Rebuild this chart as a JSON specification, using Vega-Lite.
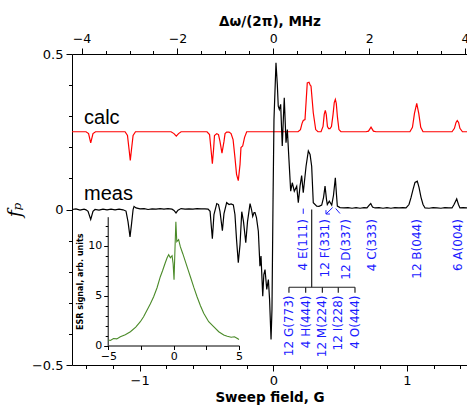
{
"$schema": "https://vega.github.io/schema/vega-lite/v6.json",
"width": 395,
"height": 311,
"autosize": {"type": "none"},
"padding": {"left": 72, "top": 54, "right": 0, "bottom": 41},
"config": {
  "view": {"stroke": null},
  "font": "DejaVu Sans",
  "axis": {"domainColor": "black", "tickColor": "black", "labelColor": "black", "titleColor": "black", "labelFont": "DejaVu Sans", "titleFont": "DejaVu Sans", "grid": false, "domainWidth": 1, "tickWidth": 1, "labelOverlap": false},
  "axisQuantitative": {"labelOverlap": false}
},
"datasets": {
  "traces": [
    {"s":"calc","G":-1.506,"f":0.25},{"s":"calc","G":-1.401,"f":0.25},{"s":"calc","G":-1.382,"f":0.244},{"s":"calc","G":-1.366,"f":0.214},{"s":"calc","G":-1.349,"f":0.244},{"s":"calc","G":-1.330,"f":0.25},
    {"s":"calc","G":-1.109,"f":0.25},{"s":"calc","G":-1.091,"f":0.238},{"s":"calc","G":-1.079,"f":0.193},{"s":"calc","G":-1.070,"f":0.158},{"s":"calc","G":-1.061,"f":0.193},{"s":"calc","G":-1.049,"f":0.238},{"s":"calc","G":-1.031,"f":0.25},
    {"s":"calc","G":-0.765,"f":0.25},{"s":"calc","G":-0.743,"f":0.244},{"s":"calc","G":-0.726,"f":0.236},{"s":"calc","G":-0.709,"f":0.244},{"s":"calc","G":-0.690,"f":0.25},
    {"s":"calc","G":-0.496,"f":0.25},{"s":"calc","G":-0.477,"f":0.241},{"s":"calc","G":-0.466,"f":0.193},{"s":"calc","G":-0.456,"f":0.147},{"s":"calc","G":-0.447,"f":0.193},{"s":"calc","G":-0.440,"f":0.238},{"s":"calc","G":-0.423,"f":0.244},{"s":"calc","G":-0.410,"f":0.241},{"s":"calc","G":-0.399,"f":0.219},{"s":"calc","G":-0.384,"f":0.181},{"s":"calc","G":-0.369,"f":0.219},{"s":"calc","G":-0.361,"f":0.244},{"s":"calc","G":-0.349,"f":0.249},{"s":"calc","G":-0.331,"f":0.249},{"s":"calc","G":-0.316,"f":0.244},{"s":"calc","G":-0.301,"f":0.225},{"s":"calc","G":-0.287,"f":0.167},{"s":"calc","G":-0.275,"f":0.113},{"s":"calc","G":-0.262,"f":0.093},{"s":"calc","G":-0.249,"f":0.145},{"s":"calc","G":-0.242,"f":0.199},{"s":"calc","G":-0.229,"f":0.204},{"s":"calc","G":-0.215,"f":0.232},{"s":"calc","G":-0.199,"f":0.25},
    {"s":"calc","G":0.185,"f":0.25},{"s":"calc","G":0.203,"f":0.257},{"s":"calc","G":0.215,"f":0.277},{"s":"calc","G":0.224,"f":0.286},{"s":"calc","G":0.237,"f":0.289},{"s":"calc","G":0.254,"f":0.407},{"s":"calc","G":0.267,"f":0.409},{"s":"calc","G":0.277,"f":0.399},{"s":"calc","G":0.282,"f":0.397},{"s":"calc","G":0.299,"f":0.311},{"s":"calc","G":0.317,"f":0.257},{"s":"calc","G":0.334,"f":0.25},
    {"s":"calc","G":0.357,"f":0.25},{"s":"calc","G":0.372,"f":0.267},{"s":"calc","G":0.381,"f":0.306},{"s":"calc","G":0.389,"f":0.319},{"s":"calc","G":0.396,"f":0.306},{"s":"calc","G":0.405,"f":0.267},{"s":"calc","G":0.414,"f":0.260},{"s":"calc","G":0.424,"f":0.260},{"s":"calc","G":0.435,"f":0.267},{"s":"calc","G":0.447,"f":0.306},{"s":"calc","G":0.456,"f":0.344},{"s":"calc","G":0.464,"f":0.354},{"s":"calc","G":0.471,"f":0.341},{"s":"calc","G":0.480,"f":0.296},{"s":"calc","G":0.491,"f":0.257},{"s":"calc","G":0.506,"f":0.25},
    {"s":"calc","G":0.693,"f":0.25},{"s":"calc","G":0.712,"f":0.252},{"s":"calc","G":0.731,"f":0.265},{"s":"calc","G":0.749,"f":0.252},{"s":"calc","G":0.768,"f":0.25},
    {"s":"calc","G":1.022,"f":0.25},{"s":"calc","G":1.041,"f":0.264},{"s":"calc","G":1.056,"f":0.309},{"s":"calc","G":1.073,"f":0.341},{"s":"calc","G":1.088,"f":0.309},{"s":"calc","G":1.103,"f":0.264},{"s":"calc","G":1.120,"f":0.25},
    {"s":"calc","G":1.337,"f":0.25},{"s":"calc","G":1.355,"f":0.261},{"s":"calc","G":1.367,"f":0.280},{"s":"calc","G":1.376,"f":0.286},{"s":"calc","G":1.386,"f":0.280},{"s":"calc","G":1.396,"f":0.261},{"s":"calc","G":1.415,"f":0.25},{"s":"calc","G":1.449,"f":0.25},
    {"s":"meas","G":-1.506,"f":0},{"s":"meas","G":-1.476,"f":0.002},{"s":"meas","G":-1.446,"f":-0.002},{"s":"meas","G":-1.416,"f":0.001},{"s":"meas","G":-1.401,"f":-0.001},{"s":"meas","G":-1.386,"f":-0.006},{"s":"meas","G":-1.366,"f":-0.032},{"s":"meas","G":-1.349,"f":-0.006},{"s":"meas","G":-1.334,"f":0},{"s":"meas","G":-1.304,"f":-0.002},{"s":"meas","G":-1.274,"f":0.001},{"s":"meas","G":-1.244,"f":-0.001},{"s":"meas","G":-1.214,"f":0.001},{"s":"meas","G":-1.184,"f":-0.001},{"s":"meas","G":-1.154,"f":0.001},{"s":"meas","G":-1.124,"f":-0.001},{"s":"meas","G":-1.102,"f":-0.005},{"s":"meas","G":-1.087,"f":-0.039},{"s":"meas","G":-1.072,"f":-0.088},{"s":"meas","G":-1.061,"f":-0.048},{"s":"meas","G":-1.049,"f":0},{"s":"meas","G":-1.042,"f":0.010},{"s":"meas","G":-1.027,"f":0.005},{"s":"meas","G":-0.997,"f":0.002},{"s":"meas","G":-0.967,"f":0.003},{"s":"meas","G":-0.937,"f":0},{"s":"meas","G":-0.907,"f":0.002},{"s":"meas","G":-0.877,"f":0.001},{"s":"meas","G":-0.847,"f":0.003},{"s":"meas","G":-0.818,"f":0.001},{"s":"meas","G":-0.788,"f":0.003},{"s":"meas","G":-0.758,"f":0.001},{"s":"meas","G":-0.743,"f":-0.003},{"s":"meas","G":-0.728,"f":-0.011},{"s":"meas","G":-0.713,"f":-0.002},{"s":"meas","G":-0.690,"f":0.003},{"s":"meas","G":-0.660,"f":0.001},{"s":"meas","G":-0.631,"f":0.002},{"s":"meas","G":-0.601,"f":0.001},{"s":"meas","G":-0.571,"f":0.003},{"s":"meas","G":-0.541,"f":0.002},{"s":"meas","G":-0.511,"f":0.002},{"s":"meas","G":-0.488,"f":0.001},{"s":"meas","G":-0.473,"f":-0.006},{"s":"meas","G":-0.456,"f":-0.094},{"s":"meas","G":-0.444,"f":-0.016},{"s":"meas","G":-0.423,"f":0.019},{"s":"meas","G":-0.410,"f":0.016},{"s":"meas","G":-0.399,"f":-0.006},{"s":"meas","G":-0.381,"f":-0.068},{"s":"meas","G":-0.369,"f":-0.013},{"s":"meas","G":-0.349,"f":0.022},{"s":"meas","G":-0.331,"f":0.016},{"s":"meas","G":-0.316,"f":0.018},{"s":"meas","G":-0.299,"f":0.015},{"s":"meas","G":-0.287,"f":-0.016},{"s":"meas","G":-0.275,"f":-0.097},{"s":"meas","G":-0.262,"f":-0.171},{"s":"meas","G":-0.249,"f":-0.113},{"s":"meas","G":-0.236,"f":-0.007},{"s":"meas","G":-0.223,"f":-0.039},{"s":"meas","G":-0.206,"f":-0.107},{"s":"meas","G":-0.193,"f":-0.039},{"s":"meas","G":-0.174,"f":0.019},{"s":"meas","G":-0.163,"f":0},{"s":"meas","G":-0.154,"f":-0.022},{"s":"meas","G":-0.144,"f":-0.010},{"s":"meas","G":-0.137,"f":-0.010},{"s":"meas","G":-0.126,"f":-0.026},{"s":"meas","G":-0.112,"f":-0.070},{"s":"meas","G":-0.100,"f":-0.182},{"s":"meas","G":-0.092,"f":-0.150},{"s":"meas","G":-0.079,"f":-0.279},{"s":"meas","G":-0.071,"f":-0.209},{"s":"meas","G":-0.062,"f":-0.193},{"s":"meas","G":-0.049,"f":-0.257},{"s":"meas","G":-0.037,"f":-0.225},{"s":"meas","G":-0.028,"f":-0.289},{"s":"meas","G":-0.017,"f":-0.418},{"s":"meas","G":-0.010,"f":-0.322},{"s":"meas","G":-0.002,"f":0.032},{"s":"meas","G":0.005,"f":0.289},{"s":"meas","G":0.020,"f":0.472},{"s":"meas","G":0.030,"f":0.402},{"s":"meas","G":0.037,"f":0.332},{"s":"meas","G":0.045,"f":0.322},{"s":"meas","G":0.055,"f":0.338},{"s":"meas","G":0.067,"f":0.204},{"s":"meas","G":0.075,"f":0.290},{"s":"meas","G":0.082,"f":0.359},{"s":"meas","G":0.095,"f":0.215},{"s":"meas","G":0.105,"f":0.257},{"s":"meas","G":0.117,"f":0.161},{"s":"meas","G":0.130,"f":0.059},{"s":"meas","G":0.142,"f":0.086},{"s":"meas","G":0.157,"f":0.059},{"s":"meas","G":0.175,"f":0.075},{"s":"meas","G":0.187,"f":0.022},{"s":"meas","G":0.200,"f":0.075},{"s":"meas","G":0.212,"f":0.109},{"s":"meas","G":0.224,"f":0.054},{"s":"meas","G":0.245,"f":0.139},{"s":"meas","G":0.262,"f":0.188},{"s":"meas","G":0.275,"f":0.177},{"s":"meas","G":0.287,"f":0.139},{"s":"meas","G":0.299,"f":0.022},{"s":"meas","G":0.325,"f":0.011},{"s":"meas","G":0.342,"f":0.010},{"s":"meas","G":0.362,"f":0.014},{"s":"meas","G":0.376,"f":0.039},{"s":"meas","G":0.387,"f":0.075},{"s":"meas","G":0.398,"f":0.032},{"s":"meas","G":0.404,"f":0.016},{"s":"meas","G":0.419,"f":0.027},{"s":"meas","G":0.437,"f":0.014},{"s":"meas","G":0.450,"f":0.045},{"s":"meas","G":0.464,"f":0.102},{"s":"meas","G":0.473,"f":0.045},{"s":"meas","G":0.479,"f":0.011},{"s":"meas","G":0.499,"f":0.006},{"s":"meas","G":0.529,"f":0.005},{"s":"meas","G":0.559,"f":0.006},{"s":"meas","G":0.589,"f":0.004},{"s":"meas","G":0.619,"f":0.006},{"s":"meas","G":0.649,"f":0.004},{"s":"meas","G":0.678,"f":0.006},{"s":"meas","G":0.701,"f":0.005},{"s":"meas","G":0.716,"f":0.013},{"s":"meas","G":0.729,"f":0.019},{"s":"meas","G":0.742,"f":0.008},{"s":"meas","G":0.761,"f":0.005},{"s":"meas","G":0.791,"f":0.006},{"s":"meas","G":0.821,"f":0.004},{"s":"meas","G":0.850,"f":0.006},{"s":"meas","G":0.880,"f":0.004},{"s":"meas","G":0.910,"f":0.006},{"s":"meas","G":0.940,"f":0.005},{"s":"meas","G":0.970,"f":0.006},{"s":"meas","G":0.993,"f":0.005},{"s":"meas","G":1.015,"f":0.016},{"s":"meas","G":1.030,"f":0.038},{"s":"meas","G":1.045,"f":0.064},{"s":"meas","G":1.060,"f":0.087},{"s":"meas","G":1.077,"f":0.091},{"s":"meas","G":1.090,"f":0.071},{"s":"meas","G":1.105,"f":0.039},{"s":"meas","G":1.120,"f":0.016},{"s":"meas","G":1.135,"f":0.005},{"s":"meas","G":1.165,"f":0.004},{"s":"meas","G":1.195,"f":0.006},{"s":"meas","G":1.224,"f":0.005},{"s":"meas","G":1.254,"f":0.004},{"s":"meas","G":1.284,"f":0.006},{"s":"meas","G":1.314,"f":0.005},{"s":"meas","G":1.337,"f":0.005},{"s":"meas","G":1.352,"f":0.016},{"s":"meas","G":1.372,"f":0.034},{"s":"meas","G":1.385,"f":0.016},{"s":"meas","G":1.396,"f":0.005},{"s":"meas","G":1.419,"f":0.006},{"s":"meas","G":1.449,"f":0.005}
  ],
  "names": [
    {"G": -1.416, "f": 0.2765, "label": "calc"},
    {"G": -1.416, "f": 0.032, "label": "meas"}
  ],
  "peaks": [
    {"G": 0.224, "f": -0.031, "label": "4 E(111)"},
    {"G": 0.387, "f": -0.031, "label": "12 F(331)"},
    {"G": 0.544, "f": -0.031, "label": "12 D(337)"},
    {"G": 0.736, "f": -0.031, "label": "4 C(333)"},
    {"G": 1.073, "f": -0.031, "label": "12 B(044)"},
    {"G": 1.384, "f": -0.031, "label": "6 A(004)"},
    {"G": 0.117, "f": -0.2765, "label": "12 G(773)"},
    {"G": 0.242, "f": -0.2765, "label": "4 H(444)"},
    {"G": 0.367, "f": -0.2765, "label": "12 M(224)"},
    {"G": 0.486, "f": -0.2765, "label": "12 I(228)"},
    {"G": 0.611, "f": -0.2765, "label": "4 O(444)"}
  ],
  "segs": [
    {"k": "bracket", "G": 0.287, "f": 0, "G2": 0.287, "f2": -0.25},
    {"k": "bracket", "G": 0.117, "f": -0.25, "G2": 0.611, "f2": -0.25},
    {"k": "bracket", "G": 0.117, "f": -0.25, "G2": 0.117, "f2": -0.268},
    {"k": "bracket", "G": 0.242, "f": -0.25, "G2": 0.242, "f2": -0.268},
    {"k": "bracket", "G": 0.367, "f": -0.25, "G2": 0.367, "f2": -0.268},
    {"k": "bracket", "G": 0.486, "f": -0.25, "G2": 0.486, "f2": -0.268},
    {"k": "bracket", "G": 0.611, "f": -0.25, "G2": 0.611, "f2": -0.268},
    {"k": "arrow", "G": 0.224, "f": 0.003, "G2": 0.224, "f2": -0.014},
    {"k": "arrow", "G": 0.394, "f": -0.0145, "G2": 0.444, "f2": 0.0064},
    {"k": "arrow", "G": 0.394, "f": -0.0145, "G2": 0.394, "f2": -0.002},
    {"k": "arrow", "G": 0.394, "f": -0.0145, "G2": 0.424, "f2": -0.0145},
    {"k": "arrow", "G": 0.467, "f": 0.003, "G2": 0.499, "f2": -0.013}
  ],
  "mhz": [{"MHz": 0}],
  "esr": [
    {"B": -5.0, "ESR": 0.57},{"B": -4.84, "ESR": 0.52},{"B": -4.6, "ESR": 0.72},{"B": -4.35, "ESR": 0.68},{"B": -4.08, "ESR": 0.9},{"B": -3.7, "ESR": 1.1},{"B": -3.31, "ESR": 1.4},{"B": -2.9, "ESR": 1.85},{"B": -2.55, "ESR": 2.4},{"B": -2.3, "ESR": 2.9},{"B": -2.04, "ESR": 3.55},{"B": -1.78, "ESR": 4.2},{"B": -1.53, "ESR": 4.9},{"B": -1.27, "ESR": 5.8},{"B": -1.02, "ESR": 6.9},{"B": -0.85, "ESR": 7.5},{"B": -0.64, "ESR": 8.3},{"B": -0.5, "ESR": 8.8},{"B": -0.38, "ESR": 9.1},{"B": -0.25, "ESR": 8.8},{"B": -0.12, "ESR": 9.0},{"B": -0.04, "ESR": 8.2},{"B": 0.03, "ESR": 6.6},{"B": 0.1, "ESR": 9.6},{"B": 0.17, "ESR": 12.4},{"B": 0.24, "ESR": 10.4},{"B": 0.38, "ESR": 10.6},{"B": 0.51, "ESR": 9.9},{"B": 0.7, "ESR": 9.2},{"B": 0.9, "ESR": 8.4},{"B": 1.1, "ESR": 7.6},{"B": 1.28, "ESR": 6.9},{"B": 1.55, "ESR": 5.8},{"B": 1.79, "ESR": 4.9},{"B": 2.05, "ESR": 4.0},{"B": 2.3, "ESR": 3.24},{"B": 2.68, "ESR": 2.4},{"B": 3.06, "ESR": 1.9},{"B": 3.45, "ESR": 1.4},{"B": 3.83, "ESR": 1.07},{"B": 4.1, "ESR": 0.95},{"B": 4.4, "ESR": 0.85},{"B": 4.65, "ESR": 0.9},{"B": 4.85, "ESR": 0.74},{"B": 5.0, "ESR": 0.62}
  ]
},
"layer": [
  {
    "encoding": {
      "x": {"field": "G", "type": "quantitative",
        "scale": {"domain": [-1.506, 1.449], "nice": false, "zero": false},
        "axis": {"orient": "bottom", "title": "Sweep field, G", "values": [-1.4,-1.2,-1,-0.8,-0.6,-0.4,-0.2,0,0.2,0.4,0.6,0.8,1,1.2,1.4],
          "labelExpr": "abs(datum.value + 1) < 0.01 ? '−1' : abs(datum.value) < 0.01 ? '0' : abs(datum.value - 1) < 0.01 ? '1' : ''",
          "tickSize": {"condition": {"test": "abs(datum.value - round(datum.value)) < 0.01", "value": 6}, "value": 3.5},
          "labelFontSize": 13, "labelPadding": 3, "titleFontSize": 13.5, "titleFontWeight": "bold", "titlePadding": 3, "labelFlush": false, "labelOverlap": false}},
      "y": {"field": "f", "type": "quantitative",
        "scale": {"domain": [-0.5, 0.5], "nice": false, "zero": false},
        "axis": {"orient": "left", "title": "fₚ", "values": [-0.5,-0.4,-0.3,-0.2,-0.1,0,0.1,0.2,0.3,0.4,0.5],
          "labelExpr": "abs(datum.value + 0.5) < 0.01 ? '−0.5' : abs(datum.value) < 0.01 ? '0' : abs(datum.value - 0.5) < 0.01 ? '0.5' : ''",
          "tickSize": {"condition": {"test": "abs(datum.value*2 - round(datum.value*2)) < 0.01", "value": 6}, "value": 3.5},
          "labelFontSize": 13, "labelPadding": 3, "titleFont": "DejaVu Serif", "titleFontStyle": "italic", "titleFontWeight": "normal", "titleFontSize": 19, "titlePadding": 7, "labelFlush": false, "labelOverlap": false}}
    },
    "layer": [
      {
        "data": {"name": "traces"},
        "mark": {"type": "line", "strokeWidth": 1.2},
        "encoding": {
          "color": {"field": "s", "type": "nominal", "scale": {"domain": ["calc", "meas"], "range": ["#ff0000", "#000000"]}, "legend": null}
        }
      },
      {
        "data": {"name": "names"},
        "mark": {"type": "text", "font": "Liberation Sans", "fontSize": 20, "align": "left", "baseline": "alphabetic", "color": "black"},
        "encoding": {
          "text": {"field": "label"}
        }
      },
      {
        "data": {"name": "segs"},
        "transform": [{"filter": "datum.k == 'bracket'"}],
        "mark": {"type": "rule", "color": "#222222", "strokeWidth": 1.2},
        "encoding": {
          "x2": {"field": "G2"},
          "y2": {"field": "f2"}
        }
      },
      {
        "data": {"name": "segs"},
        "transform": [{"filter": "datum.k == 'arrow'"}],
        "mark": {"type": "rule", "color": "#2020ff", "strokeWidth": 1},
        "encoding": {
          "x2": {"field": "G2"},
          "y2": {"field": "f2"}
        }
      },
      {
        "data": {"name": "peaks"},
        "mark": {"type": "text", "font": "DejaVu Sans", "fontSize": 12, "angle": 270, "align": "right", "baseline": "middle", "color": "#1a1aff"},
        "encoding": {
          "text": {"field": "label"}
        }
      }
    ]
  },
  {
    "data": {"name": "mhz"},
    "mark": {"type": "rule", "opacity": 0},
    "encoding": {
      "x": {"field": "MHz", "type": "quantitative",
        "scale": {"domain": [-4.2, 4.04], "nice": false, "zero": false},
        "axis": {"orient": "top", "title": "Δω/(2π), MHz", "values": [-4,-3.5,-3,-2.5,-2,-1.5,-1,-0.5,0,0.5,1,1.5,2,2.5,3,3.5,4],
          "format": "~g", "labelExpr": "abs(datum.value/2 - round(datum.value/2)) < 0.01 ? datum.label : ''",
          "tickSize": {"condition": {"test": "abs(datum.value/2 - round(datum.value/2)) < 0.01", "value": 6}, "value": 3.5},
          "labelFontSize": 12.5, "labelPadding": 3, "titleFontSize": 13.5, "titleFontWeight": "bold", "titlePadding": 4, "labelFlush": false, "labelOverlap": false}}
    }
  },
  {
    "data": {"name": "esr"},
    "mark": {"type": "line", "color": "#4a8a28", "strokeWidth": 1.1},
    "encoding": {
      "x": {"field": "B", "type": "quantitative",
        "scale": {"domain": [-5, 5], "range": [36.3, 167], "nice": false, "zero": false},
        "axis": {"orient": "bottom", "offset": -19.5, "title": null, "values": [-5, -2.5, 0, 2.5, 5],
          "format": "~g", "labelExpr": "abs(datum.value/5 - round(datum.value/5)) < 0.01 ? datum.label : ''",
          "tickSize": 4, "labelFontSize": 11, "labelPadding": 1, "labelFlush": false, "labelOverlap": false}},
      "y": {"field": "ESR", "type": "quantitative",
        "scale": {"domain": [0, 12.9], "range": [291.7, 162.7], "nice": false, "zero": false},
        "axis": {"orient": "left", "offset": -35.7, "title": "ESR signal, arb. units", "values": [0,1,2,3,4,5,6,7,8,9,10,11,12],
          "format": "~g", "labelExpr": "abs(datum.value/5 - round(datum.value/5)) < 0.01 ? datum.label : ''",
          "tickSize": {"condition": {"test": "abs(datum.value/5 - round(datum.value/5)) < 0.01", "value": 4}, "value": 2.5},
          "labelFontSize": 11, "labelPadding": 2, "titleFontSize": 8, "titleFontWeight": "bold", "titlePadding": 3, "labelFlush": false, "labelOverlap": false}}
    }
  }
],
"resolve": {"scale": {"x": "independent", "y": "independent"}, "axis": {"x": "independent", "y": "independent"}}
}
